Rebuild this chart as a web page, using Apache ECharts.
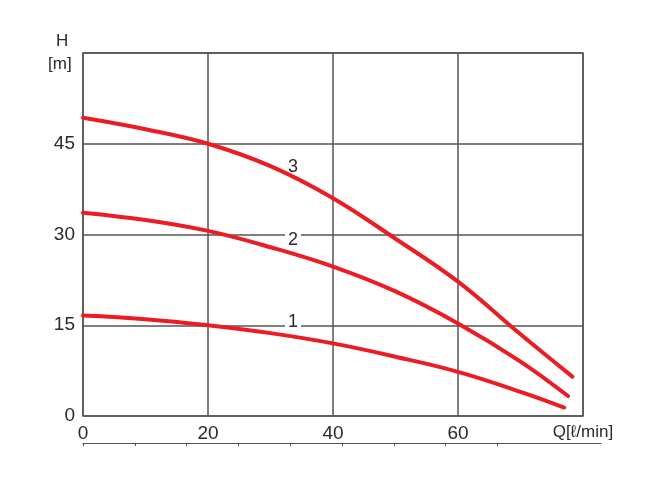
<!DOCTYPE html>
<html>
<head>
<meta charset="utf-8">
<script src="https://cdn.jsdelivr.net/npm/echarts@6/dist/echarts.min.js"></script>
<style>html,body{margin:0;padding:0;background:#fff;}#c{width:655px;height:489px;}</style>
</head>
<body>
<div id="c"></div>
<script>
// Flow Q [l/min]
var flow1 = [0, 10, 20, 30, 40, 50, 60, 70, 77];
var head1 = [16.6, 16.0, 15.0, 13.7, 12.0, 9.8, 7.3, 4.0, 1.4];
var flow2 = [0, 10, 20, 30, 40, 50, 60, 70, 77.6];
var head2 = [33.6, 32.4, 30.6, 27.9, 24.7, 20.6, 15.3, 9.0, 3.3];
var flow3 = [0, 10, 20, 30, 40, 50, 60, 70, 78.3];
var head3 = [49.3, 47.4, 45.0, 41.3, 36.0, 29.3, 22.2, 13.5, 6.5];
var curveNames = ['1', '2', '3'];
var labelPos = [[33.6, 15.5], [33.6, 29.1], [33.6, 41.2]];
var yTicks = [0, 15, 30, 45, 60];
var xTicks = [0, 20, 40, 60, 80];
var xUnit = 'Q[ℓ/min]';
// secondary scale (m³/h) ticks
var secTicks = [0, 0.5, 1, 1.5, 2, 2.5, 3, 3.5, 4];
var secMax = 5;

function pairs(xs, ys) { return xs.map(function (x, i) { return [x, ys[i]]; }); }
var flows = [flow1, flow2, flow3];
var heads = [head1, head2, head3];
var FONT = 'Liberation Sans';
var TXT = '#2a2a2a';
var series = flows.map(function (f, i) {
  return {
    type: 'line', xAxisIndex: 0, yAxisIndex: 0,
    data: pairs(f, heads[i]), smooth: 0.4, showSymbol: false, symbol: 'none',
    lineStyle: { color: '#ec1c24', width: 4, cap: 'round' },
    z: 5,
    markPoint: {
      symbol: 'circle', symbolSize: 0, silent: true,
      data: [{ coord: labelPos[i] }],
      label: { show: true, position: 'inside', formatter: curveNames[i], color: TXT,
        fontFamily: FONT, fontSize: 18, backgroundColor: '#fff', padding: [0, 3, 0, 3] }
    }
  };
});

var chart = echarts.init(document.getElementById('c'), null, { renderer: 'canvas' });
chart.setOption({
  animation: false,
  backgroundColor: '#fff',
  grid: [
    { left: 83, right: 72, top: 53, bottom: 73, show: true, borderColor: '#555', borderWidth: 1.5, backgroundColor: 'transparent' },
    { left: 83, right: 54, top: 442, height: 1, show: false }
  ],
  xAxis: [
    { type: 'value', gridIndex: 0, min: xTicks[0], max: xTicks[xTicks.length - 1], interval: 20,
      axisLine: { show: false }, axisTick: { show: false },
      splitLine: { show: true, lineStyle: { color: '#555', width: 1.5 } },
      axisLabel: { margin: 8, color: TXT, fontFamily: FONT, fontSize: 19,
        formatter: function (v) { return v === 80 ? '{u|' + xUnit + '}' : String(v); },
        rich: { u: { fontFamily: FONT, fontSize: 17, color: TXT } } } },
    { type: 'value', gridIndex: 1, min: 0, max: secMax, position: 'bottom',
      axisLine: { show: true, lineStyle: { color: '#555', width: 1 } },
      axisTick: { show: true, length: 3, customValues: secTicks, lineStyle: { color: '#555', width: 1 } },
      axisLabel: { show: false }, splitLine: { show: false } }
  ],
  yAxis: [
    { type: 'value', gridIndex: 0, min: yTicks[0], max: yTicks[yTicks.length - 1], interval: 15,
      axisLine: { show: false }, axisTick: { show: false },
      splitLine: { show: true, lineStyle: { color: '#555', width: 1.5 } },
      axisLabel: { margin: 8, color: TXT, fontFamily: FONT, fontSize: 19,
        formatter: function (v) { return v === 60 ? '' : String(v); } } },
    { type: 'value', gridIndex: 1, show: false }
  ],
  graphic: [
    { type: 'text', left: 56, top: 33, style: { text: 'H', font: '17px "Liberation Sans"', fill: TXT } },
    { type: 'text', left: 48, top: 56, style: { text: '[m]', font: '17px "Liberation Sans"', fill: TXT } }
  ],
  series: series
});
</script>
</body>
</html>
